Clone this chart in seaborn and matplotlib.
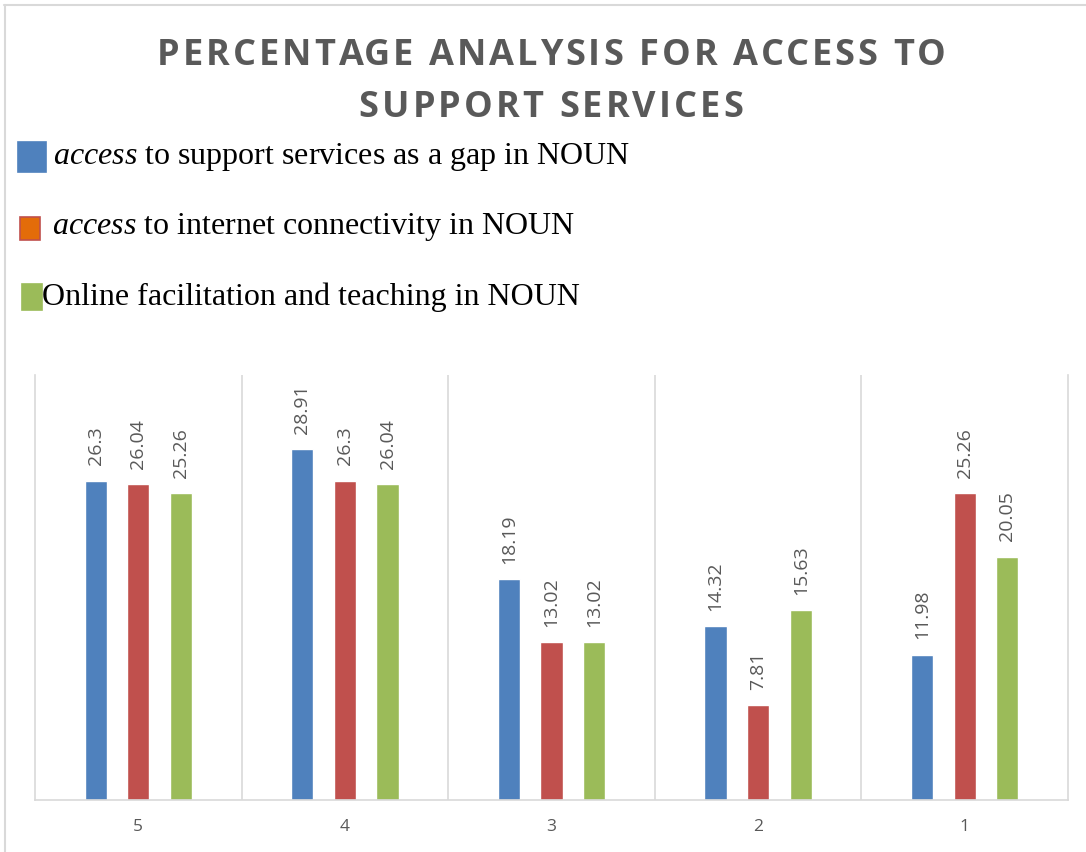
import matplotlib
matplotlib.use("Agg")
import matplotlib.pyplot as plt
from matplotlib.patches import Rectangle
from matplotlib.lines import Line2D
import seaborn as sns
import pandas as pd

# Chart data
categories = ["5", "4", "3", "2", "1"]
support_gap = [26.3, 28.91, 18.19, 14.32, 11.98]
internet_access = [26.04, 26.3, 13.02, 7.81, 25.26]
online_teaching = [25.26, 26.04, 13.02, 15.63, 20.05]
series_names = [
    "access to support services as a gap in NOUN",
    "access to internet connectivity in NOUN",
    "Online facilitation and teaching in NOUN",
]
legend_labels = [
    r"$\it{access}$ to support services as a gap in NOUN",
    r"$\it{access}$ to internet connectivity in NOUN",
    "Online facilitation and teaching in NOUN",
]
colors = ["#4F81BD", "#C0504D", "#9BBB59"]
title_lines = ["PERCENTAGE ANALYSIS FOR ACCESS TO", "SUPPORT SERVICES"]

rows = []
for name, vals in zip(series_names, [support_gap, internet_access, online_teaching]):
    for cat, v in zip(categories, vals):
        rows.append({"category": cat, "value": v, "series": name})
df = pd.DataFrame(rows)

sns.set_theme(style="white")
plt.rcParams["mathtext.fontset"] = "custom"
plt.rcParams["mathtext.it"] = "Liberation Serif:italic"
plt.rcParams["mathtext.rm"] = "Liberation Serif"

W, H = 1086, 852
fig = plt.figure(figsize=(W / 100, H / 100), dpi=100)
ax = fig.add_axes([35 / W, 1 - 800 / H, (1068 - 35) / W, (800 - 375) / H])

sns.barplot(data=df, x="category", y="value", hue="series", order=categories,
            hue_order=series_names, palette=colors, width=0.62, gap=0.48,
            saturation=1, legend=False, ax=ax)

for cont in ax.containers:
    ax.bar_label(cont, fmt="{:g}", rotation=90, padding=11, color="#595959",
                 fontsize=14, family="Open Sans")

ax.set_xlim(-0.5, 4.5)
ax.set_ylim(0, 35)
ax.set_xlabel("")
ax.set_ylabel("")
ax.set_yticks([])
ax.tick_params(axis="x", length=0, pad=14, labelsize=12.5, labelcolor="#595959")
for lbl in ax.get_xticklabels():
    lbl.set_family("Open Sans")

grid_c = "#D9D9D9"
for b in [0.5, 1.5, 2.5, 3.5]:
    ax.axvline(b, color=grid_c, lw=1.2, zorder=0)
for side in ["left", "right", "bottom"]:
    ax.spines[side].set_color(grid_c)
    ax.spines[side].set_linewidth(1.2)
ax.spines["top"].set_visible(False)

# Letter-spaced title
renderer = fig.canvas.get_renderer()
title_kw = dict(fontsize=26, fontweight="bold", color="#595959", family="Open Sans")


def text_width(s):
    t = fig.text(0, 0, s + "|", **title_kw)
    bar = fig.text(0, 0, "|", **title_kw)
    w = t.get_window_extent(renderer).width - bar.get_window_extent(renderer).width
    t.remove()
    bar.remove()
    return w


def spaced_title(line, cx, baseline, spacing):
    n = len(line)
    full = text_width(line)
    total = full + spacing * (n - 1)
    x0 = cx - total / 2
    for i, ch in enumerate(line):
        if ch == " ":
            continue
        x = x0 + text_width(line[:i]) + spacing * i
        fig.text(x / W, 1 - baseline / H, ch, ha="left", va="baseline", **title_kw)


spaced_title(title_lines[0], 551, 65, 3.1)
spaced_title(title_lines[1], 551, 117, 3.1)

# Legend
swatches = [(18, 142, 28, 30), (20, 217, 20, 23), (22, 284, 20, 26)]
fills = ["#4F81BD", "#E36C09", "#9BBB59"]
edges = ["#4F81BD", "#C0504D", "#9BBB59"]
text_x = [53, 52, 42]
text_y = [157, 227, 297]
for (x, y, w, h), fc, ec, tx, ty, lab in zip(swatches, fills, edges, text_x, text_y, legend_labels):
    fig.add_artist(Rectangle((x / W, 1 - (y + h) / H), w / W, h / H,
                             transform=fig.transFigure, facecolor=fc,
                             edgecolor=ec, lw=1.2))
    fig.text(tx / W, 1 - ty / H, lab, ha="left", va="center", fontsize=23,
             family="Liberation Serif", color="black")

# Outer frame lines
fig.add_artist(Line2D([4 / W, 1], [1 - 5 / H, 1 - 5 / H], transform=fig.transFigure,
                      color=grid_c, lw=1.5))
fig.add_artist(Line2D([5 / W, 5 / W], [0, 1 - 5 / H], transform=fig.transFigure,
                      color=grid_c, lw=1.5))

fig.savefig("out.png", dpi=100)
